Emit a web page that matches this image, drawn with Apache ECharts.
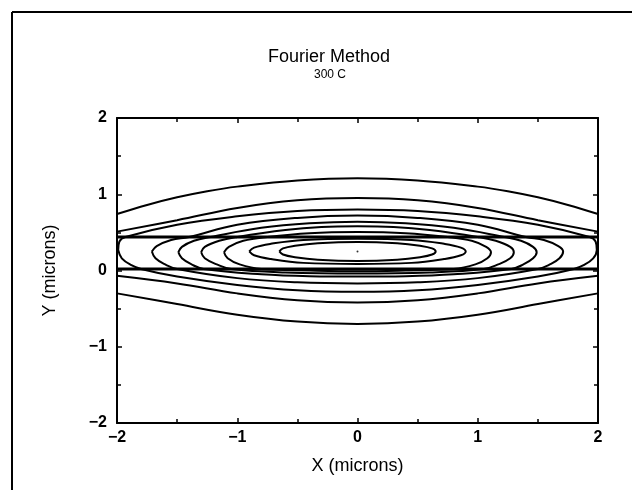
<!DOCTYPE html>
<html>
<head>
<meta charset="utf-8">
<script src="https://cdn.jsdelivr.net/npm/echarts@6/dist/echarts.min.js"></script>
<style>
  html, body { margin: 0; padding: 0; background: #fff; }
  #chart { width: 632px; height: 490px; }
</style>
</head>
<body>
<div id="chart"></div>
<script>
// axis ticks
var xTicks = [-2, -1, 0, 1, 2];
var yTicks = [-2, -1, 0, 1, 2];

// layer boundaries (horizontal lines)
var bandTop = [[-2, 0.44], [2, 0.44]];
var bandBottom = [[-2, 0.02], [2, 0.02]];

// closed contours, inner to outer
var L1 = [[-0.65,0.25],[-0.62,0.29],[-0.52,0.325],[-0.33,0.358],[0,0.375],[0.33,0.358],[0.52,0.325],[0.62,0.29],[0.65,0.25],[0.62,0.21],[0.52,0.175],[0.33,0.142],[0,0.125],[-0.33,0.142],[-0.52,0.175],[-0.62,0.21],[-0.65,0.25]];
var L2 = [[-0.9,0.25],[-0.86,0.30],[-0.72,0.35],[-0.45,0.40],[0,0.415],[0.45,0.40],[0.72,0.35],[0.86,0.30],[0.9,0.25],[0.86,0.20],[0.72,0.15],[0.45,0.10],[0,0.085],[-0.45,0.10],[-0.72,0.15],[-0.86,0.20],[-0.9,0.25]];
var L3 = [[-1.11,0.24],[-1.07,0.31],[-0.95,0.39],[-0.75,0.44],[-0.4,0.49],[0,0.505],[0.4,0.49],[0.75,0.44],[0.95,0.39],[1.07,0.31],[1.11,0.24],[1.08,0.16],[0.98,0.08],[0.8,0.02],[0.4,0.0],[0,-0.01],[-0.4,0.0],[-0.8,0.02],[-0.98,0.08],[-1.08,0.16],[-1.11,0.24]];
var L4 = [[-1.30,0.24],[-1.27,0.31],[-1.15,0.39],[-1.0,0.44],[-0.6,0.53],[-0.3,0.57],[0,0.58],[0.3,0.57],[0.6,0.53],[1.0,0.44],[1.15,0.39],[1.27,0.31],[1.30,0.24],[1.27,0.16],[1.17,0.08],[1.05,0.02],[0.6,-0.025],[0,-0.04],[-0.6,-0.025],[-1.05,0.02],[-1.17,0.08],[-1.27,0.16],[-1.30,0.24]];
var L5 = [[-1.49,0.24],[-1.46,0.31],[-1.36,0.39],[-1.22,0.44],[-0.8,0.56],[-0.4,0.62],[0,0.64],[0.4,0.62],[0.8,0.56],[1.22,0.44],[1.36,0.39],[1.46,0.31],[1.49,0.24],[1.46,0.16],[1.38,0.08],[1.28,0.02],[0.8,-0.05],[0.4,-0.075],[0,-0.08],[-0.4,-0.075],[-0.8,-0.05],[-1.28,0.02],[-1.38,0.08],[-1.46,0.16],[-1.49,0.24]];
var L6 = [[-1.71,0.25],[-1.67,0.32],[-1.55,0.40],[-1.4,0.44],[-1.0,0.6],[-0.5,0.69],[0,0.72],[0.5,0.69],[1.0,0.6],[1.4,0.44],[1.55,0.40],[1.67,0.32],[1.71,0.25],[1.68,0.16],[1.6,0.08],[1.5,0.02],[1.0,-0.1],[0.5,-0.155],[0,-0.17],[-0.5,-0.155],[-1.0,-0.1],[-1.5,0.02],[-1.6,0.08],[-1.68,0.16],[-1.71,0.25]];
var L7 = [[-1.99,0.27],[-1.98,0.38],[-1.93,0.44],[-1.5,0.6],[-1.0,0.71],[-0.5,0.78],[0,0.80],[0.5,0.78],[1.0,0.71],[1.5,0.6],[1.93,0.44],[1.98,0.38],[1.99,0.27],[1.96,0.16],[1.88,0.07],[1.8,0.02],[1.5,-0.08],[1.0,-0.19],[0.5,-0.26],[0,-0.28],[-0.5,-0.26],[-1.0,-0.19],[-1.5,-0.08],[-1.8,0.02],[-1.88,0.07],[-1.96,0.16],[-1.99,0.27]];

// open contours running edge to edge
var T1 = [[-2,0.74],[-1.75,0.86],[-1.5,0.96],[-1.25,1.04],[-1,1.1],[-0.5,1.18],[0,1.21],[0.5,1.18],[1,1.1],[1.25,1.04],[1.5,0.96],[1.75,0.86],[2,0.74]];
var T2 = [[-2,0.51],[-1.5,0.66],[-1,0.82],[-0.5,0.92],[0,0.95],[0.5,0.92],[1,0.82],[1.5,0.66],[2,0.51]];
var B1 = [[-2,-0.3],[-1.5,-0.44],[-1,-0.58],[-0.5,-0.67],[0,-0.70],[0.5,-0.67],[1,-0.58],[1.5,-0.44],[2,-0.3]];
var B2 = [[-2,-0.07],[-1.5,-0.17],[-1,-0.3],[-0.5,-0.39],[0,-0.42],[0.5,-0.39],[1,-0.3],[1.5,-0.17],[2,-0.07]];

var peak = [[0, 0.25]];

var chart = echarts.init(document.getElementById('chart'));

function fmt(v) {
    return v < 0 ? '\u2212' + Math.abs(v) : String(v);
}

var font = 'Liberation Sans';
var black = '#000';

function axisBase(pos, showLabel) {
    return {
        type: 'value',
        position: pos,
        min: -2,
        max: 2,
        interval: 1,
        axisLine: { onZero: false, lineStyle: { color: black, width: 2 } },
        axisTick: { inside: true, length: 5, lineStyle: { color: black, width: 1.5 } },
        minorTick: { show: true, splitNumber: 2, length: 4, lineStyle: { color: black, width: 1.5 } },
        splitLine: { show: false },
        axisLabel: {
            show: showLabel,
            color: black,
            fontFamily: font,
            fontSize: 16,
            fontWeight: 'bold',
            formatter: fmt
        }
    };
}

var xBottom = axisBase('bottom', true);
xBottom.axisLabel.margin = 7;
xBottom.name = 'X (microns)';
xBottom.nameLocation = 'middle';
xBottom.nameGap = 34;
xBottom.nameTextStyle = { color: black, fontFamily: font, fontSize: 18 };
var xTop = axisBase('top', false);

var yLeft = axisBase('left', true);
yLeft.axisLabel.margin = 10;
yLeft.name = 'Y (microns)';
yLeft.nameLocation = 'middle';
yLeft.nameGap = 58;
yLeft.nameTextStyle = { color: black, fontFamily: font, fontSize: 18 };
var yRight = axisBase('right', false);

function contour(data, width) {
    return {
        type: 'line',
        data: data,
        xAxisIndex: 0,
        yAxisIndex: 0,
        showSymbol: false,
        smooth: 0.4,
        silent: true,
        clip: true,
        lineStyle: { color: black, width: width || 2 }
    };
}

var series = [
    contour(bandTop, 3),
    contour(bandBottom, 3),
    contour(L1), contour(L2), contour(L3), contour(L4),
    contour(L5), contour(L6), contour(L7),
    contour(T1), contour(T2), contour(B1), contour(B2),
    {
        type: 'scatter',
        data: peak,
        symbolSize: 2,
        itemStyle: { color: black }
    }
];

var option = {
    animation: false,
    backgroundColor: '#fff',
    grid: { left: 117, top: 118, width: 481, height: 305, containLabel: false },
    xAxis: [xBottom, xTop],
    yAxis: [yLeft, yRight],
    graphic: [
        { type: 'line', shape: { x1: 12, y1: 12, x2: 12, y2: 490 }, style: { stroke: black, lineWidth: 2 } },
        { type: 'line', shape: { x1: 12, y1: 12, x2: 632, y2: 12 }, style: { stroke: black, lineWidth: 2 } },
        { type: 'text', left: 'center', x: 329, y: 57, style: { text: 'Fourier Method', x: 329, y: 57, align: 'center', verticalAlign: 'middle', font: '18px ' + font, fill: black } },
        { type: 'text', style: { text: '300 C', x: 330, y: 75, align: 'center', verticalAlign: 'middle', font: '12px ' + font, fill: black } }
    ],
    series: series
};
// graphic text placement uses style x/y only
delete option.graphic[2].left;
delete option.graphic[2].x;
delete option.graphic[2].y;

chart.setOption(option);
</script>
</body>
</html>
